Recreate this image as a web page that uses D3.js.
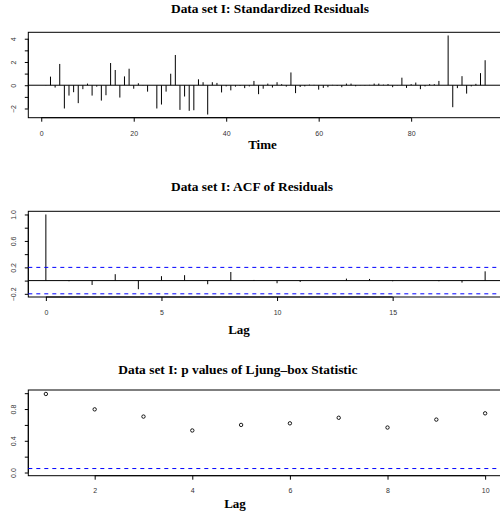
<!DOCTYPE html>
<html><head><meta charset="utf-8">
<script src="https://cdn.jsdelivr.net/npm/d3@7"></script>
<style>body{margin:0;background:#fff}</style>
</head><body><svg id="c" width="500" height="515"></svg>
<script>
// ---- data ----
const residuals = [0.02,0.74,-0.2,1.83,-2.0,-0.89,-0.6,-1.54,-0.34,0.14,
  -0.89,-0.12,-1.32,-0.86,1.91,1.31,-1.06,0.76,1.42,-0.3,
  0.17,0.02,-0.55,0.0,-2.0,-1.66,-0.55,0.99,2.6,-2.12,
  -0.97,-2.2,-2.15,0.51,0.26,-2.52,0.26,0.2,-0.62,-0.1,
  -0.44,-0.12,-0.05,-0.25,-0.1,0.37,-0.77,-0.3,0.14,-0.2,
  0.26,0.09,-0.12,1.1,-0.68,-0.15,-0.1,0.05,0.03,-0.38,
  -0.23,-0.17,0.03,-0.05,-0.17,0.14,0.14,-0.09,0.02,-0.03,
  0.03,0.14,0.14,0.05,0.1,-0.17,0.02,0.65,-0.23,0.09,
  0.23,-0.34,-0.1,0.09,0.09,0.37,0.0,4.28,-1.89,-0.25,
  0.78,-0.72,-0.1,0.12,1.04,2.15];
const times = residuals.map((d,i)=>i+1);
const acfValues = [1.0,-0.01,-0.066,0.097,-0.13,0.067,0.082,-0.055,0.13,0.01,
  -0.04,-0.02,0.0,0.03,0.025,-0.01,0.0,-0.01,-0.03,0.14];
const acfLags = acfValues.map((d,i)=>i);
const ciLimit = 0.2;
const ljungLags = [1,2,3,4,5,6,7,8,9,10];
const ljungP = [0.99,0.796,0.705,0.53,0.60,0.62,0.69,0.567,0.667,0.746];
const pLevel = 0.05;

const resXTicks = [0,20,40,60,80];
const resYTicks = [-2,-1,0,1,2,3,4];
const resYLabels = [-2,0,2,4];
const acfXTicks = [0,5,10,15];
const acfYTicks = [-0.2,0,0.2,0.4,0.6,0.8,1.0];
const acfYLabels = [-0.2,0.2,0.6,1.0];
const ljXTicks = [2,4,6,8,10];
const ljYTicks = [0,0.2,0.4,0.6,0.8,1.0];
const ljYLabels = [0,0.4,0.8];

// ---- layout ----
const svg = d3.select("#c");
const L = 28.3, R = 502.7;
const serif = "'Liberation Serif','Times New Roman',serif";
const sans = "'Liberation Sans',Arial,Helvetica,sans-serif";
const pad = ([a,b]) => { const r=b-a; return [a-0.04*r, b+0.04*r]; };

function panel(o){
  const x = d3.scaleLinear().domain(pad(o.xExt)).range([L,R]);
  const y = d3.scaleLinear().domain(pad(o.yExt)).range([o.bottom,o.top]);
  const g = svg.append("g");
  // title
  g.append("text").attr("x",o.titleX).attr("y",o.titleY)
    .attr("font-family",serif).attr("font-weight","bold").attr("font-size",13.4)
    .text(o.title);
  g.append("text").attr("x",o.xlabX).attr("y",o.xlabY).attr("text-anchor","middle")
    .attr("font-family",serif).attr("font-weight","bold").attr("font-size",13)
    .text(o.xlab);
  // axes
  const xa = g.append("g").attr("transform",`translate(0,${o.bottom})`)
    .call(d3.axisBottom(x).tickValues(o.xTicks).tickSize(4).tickPadding(0).tickFormat(d3.format("")));
  xa.select(".domain").attr("d",`M${x(o.xTicks[0])},0H${x(o.xTicks[o.xTicks.length-1])}`).attr("stroke","#000");
  xa.selectAll("line").attr("stroke","#000");
  xa.selectAll("text").attr("font-family",sans).attr("font-size",7).attr("fill","#333")
    .attr("dy",null).attr("y",o.xTickBase-o.bottom);
  const ya = g.append("g").attr("transform",`translate(${L},0)`)
    .call(d3.axisLeft(y).tickValues(o.yTicks).tickSize(3.5)
      .tickFormat(d => o.yLabels.some(v=>Math.abs(v-d)<1e-9) ? d3.format("."+o.yDec+"f")(d) : ""));
  ya.select(".domain").attr("d",`M0,${y(o.yTicks[0])}V${y(o.yTicks[o.yTicks.length-1])}`).attr("stroke","#000");
  ya.selectAll("line").attr("stroke","#000");
  ya.selectAll("text").attr("font-family",sans).attr("font-size",7).attr("fill","#333")
    .attr("text-anchor","middle").attr("dy",null).attr("x",0).attr("y",-12.6)
    .attr("transform","rotate(-90)");
  // box
  g.append("rect").attr("x",L).attr("y",o.top).attr("width",R-L).attr("height",o.bottom-o.top)
    .attr("fill","none").attr("stroke","#000").attr("stroke-width",1);
  return {x,y,g};
}

// Panel 1: standardized residuals
const p1 = panel({top:32.3,bottom:117.7,xExt:d3.extent(times),yExt:d3.extent(residuals),
  xTicks:resXTicks,yTicks:resYTicks,yLabels:resYLabels,yDec:0,
  title:"Data set I: Standardized Residuals",titleX:171,titleY:13.3,
  xlab:"Time",xlabX:262.5,xlabY:148.5,xTickBase:136});
p1.g.append("line").attr("x1",L).attr("x2",R).attr("y1",p1.y(0)).attr("y2",p1.y(0)).attr("stroke","#000");
p1.g.selectAll(".bar").data(residuals).join("line")
  .attr("x1",(d,i)=>p1.x(times[i])).attr("x2",(d,i)=>p1.x(times[i]))
  .attr("y1",p1.y(0)).attr("y2",d=>p1.y(d)).attr("stroke","#000").attr("stroke-width",1);

// Panel 2: ACF
const p2 = panel({top:211.3,bottom:297,xExt:d3.extent(acfLags),
  yExt:d3.extent([...acfValues,-ciLimit,ciLimit]),
  xTicks:acfXTicks,yTicks:acfYTicks,yLabels:acfYLabels,yDec:1,
  title:"Data set I: ACF of Residuals",titleX:171,titleY:190.7,
  xlab:"Lag",xlabX:239,xlabY:334,xTickBase:315.3});
p2.g.append("line").attr("x1",L).attr("x2",R).attr("y1",p2.y(0)).attr("y2",p2.y(0)).attr("stroke","#000");
p2.g.selectAll(".bar").data(acfValues).join("line")
  .attr("x1",(d,i)=>p2.x(acfLags[i])).attr("x2",(d,i)=>p2.x(acfLags[i]))
  .attr("y1",p2.y(0)).attr("y2",d=>p2.y(d)).attr("stroke","#000").attr("stroke-width",1);
[ciLimit,-ciLimit].forEach(c=>{
  p2.g.append("line").attr("x1",L).attr("x2",R).attr("y1",p2.y(c)).attr("y2",p2.y(c))
    .attr("stroke","#0000ff").attr("stroke-dasharray","4,4");
});

// Panel 3: Ljung-Box p values
const p3 = panel({top:390,bottom:475.7,xExt:d3.extent(ljungLags),yExt:[0,1],
  xTicks:ljXTicks,yTicks:ljYTicks,yLabels:ljYLabels,yDec:1,
  title:"Data set I: p values of Ljung\u2013box Statistic",titleX:118.3,titleY:374.3,
  xlab:"Lag",xlabX:235,xlabY:508,xTickBase:493.5});
p3.g.append("line").attr("x1",L).attr("x2",R).attr("y1",p3.y(pLevel)).attr("y2",p3.y(pLevel))
  .attr("stroke","#0000ff").attr("stroke-dasharray","4,4");
p3.g.selectAll(".pt").data(ljungP).join("circle")
  .attr("cx",(d,i)=>p3.x(ljungLags[i])).attr("cy",d=>p3.y(d)).attr("r",1.7)
  .attr("fill","none").attr("stroke","#000").attr("stroke-width",0.9);
</script></body></html>
